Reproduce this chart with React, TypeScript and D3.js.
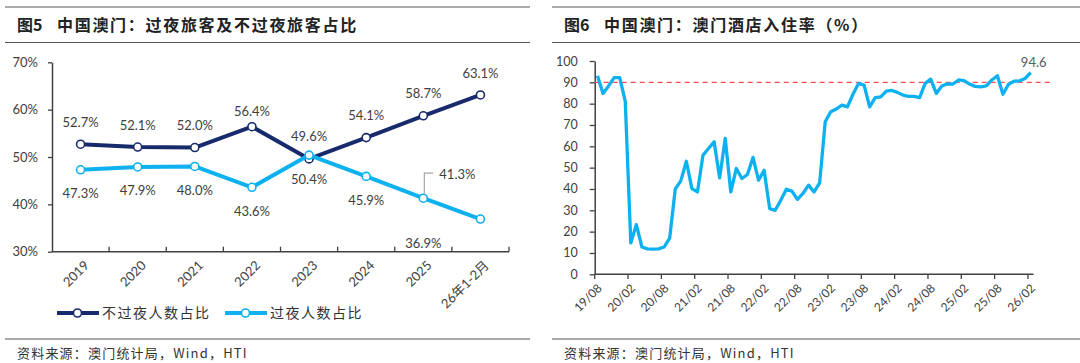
import React, { useEffect, useRef } from "react";
import * as d3 from "d3";

// figure 5: share of day-trippers vs overnight visitors
const years = ["2019", "2020", "2021", "2022", "2023", "2024", "2025", "26年1-2月"];
const dayTripShare = [52.7, 52.1, 52.0, 56.4, 49.6, 54.1, 58.7, 63.1];
const overnightShare = [47.3, 47.9, 48.0, 43.6, 50.4, 45.9, 41.3, 36.9];
const shareTicks = [30, 40, 50, 60, 70];

// figure 6: hotel occupancy rate, monthly 2019/08 - 2026/02
const occupancy = [
  93.1, 84.8, 88.3, 92.2, 92.2,
  81.2, 14.7, 23.3, 12.8, 11.9, 11.8, 11.9, 12.8, 17.0, 39.9, 43.8, 53.0,
  40.2, 38.6, 55.9, 59.0, 62.1, 45.2, 63.7, 38.6, 49.6, 44.9, 46.8, 54.8,
  44.1, 48.8, 30.8, 30.0, 34.7, 39.9, 39.0, 35.1, 37.9, 41.8, 38.6, 42.9,
  71.5, 76.2, 77.5, 79.3, 78.5, 84.4, 89.5, 88.7, 78.5, 82.8, 83.2, 85.9,
  86.2, 85.3, 84.0, 83.4, 83.4, 82.8, 89.5, 91.5, 84.8, 88.3, 89.3, 89.2,
  91.1, 90.8, 89.2, 88.1, 87.9, 88.3, 91.1, 93.1, 84.4, 89.1, 90.5, 90.7,
  91.8, 94.6,
];
const occTickLabels = ["19/08", "20/02", "20/08", "21/02", "21/08", "22/02", "22/08",
  "23/02", "23/08", "24/02", "24/08", "25/02", "25/08", "26/02"];
const occYTicks = [0, 10, 20, 30, 40, 50, 60, 70, 80, 90, 100];
const occRef = 90;

const DARK = "#172b6c";
const LIGHT = "#0db1ef";
const TXT = "#404040";
const NUM_FONT = "Lato, 'Noto Sans CJK SC', sans-serif";
const CJK_FONT = "'Noto Sans CJK SC', sans-serif";

function drawFrame(svg, x0, x1, fig, title, tx) {
  svg.append("line").attr("x1", x0).attr("x2", x1).attr("y1", 7).attr("y2", 7)
    .attr("stroke", "#555").attr("stroke-width", 1);
  svg.append("line").attr("x1", x0).attr("x2", x1).attr("y1", 42.5).attr("y2", 42.5)
    .attr("stroke", "#555").attr("stroke-width", 1.2);
  svg.append("line").attr("x1", x0).attr("x2", x1).attr("y1", 339).attr("y2", 339)
    .attr("stroke", "#555").attr("stroke-width", 1.2);

  svg.append("text").attr("x", tx).attr("y", 31)
    .style("font-family", CJK_FONT).style("font-size", "16px").style("font-weight", 700)
    .attr("fill", "#222").text(fig);
  svg.append("text").attr("x", tx + 40).attr("y", 31)
    .style("font-family", CJK_FONT).style("font-size", "16px").style("font-weight", 700)
    .style("letter-spacing", "1.7px").attr("fill", "#222").text(title);

  svg.append("text").attr("x", tx).attr("y", 358)
    .style("font-family", CJK_FONT).style("font-size", "13px").style("letter-spacing", "1.2px")
    .attr("fill", "#333").text("资料来源：澳门统计局，Wind，HTI");
}

function drawLeft(svg) {
  const x = d3.scaleBand().domain(years).range([52, 509]);
  const y = d3.scaleLinear().domain([30, 70]).range([251.7, 62.3]);
  const cx = (d) => x(d) + x.bandwidth() / 2;

  // y axis
  const ya = svg.append("g").attr("transform", "translate(52,0)")
    .call(d3.axisLeft(y).tickValues(shareTicks).tickFormat((d) => d + "%")
      .tickSize(4).tickSizeOuter(0).tickPadding(10));
  ya.select(".domain").attr("stroke", TXT).attr("stroke-width", 1.5);
  ya.selectAll("line").attr("stroke", TXT).attr("stroke-width", 1.3);
  ya.selectAll("text").attr("fill", TXT).style("font-family", NUM_FONT).style("font-size", "13px");

  // x axis, ticks between categories pointing up
  svg.append("line").attr("x1", 52).attr("x2", 509).attr("y1", 251.7).attr("y2", 251.7)
    .attr("stroke", TXT).attr("stroke-width", 1.5);
  svg.selectAll(".xtickL").data(years.slice(1).concat(["_end"])).enter().append("line")
    .attr("x1", (d) => (d === "_end" ? 509 : x(d))).attr("x2", (d) => (d === "_end" ? 509 : x(d)))
    .attr("y1", 251.7).attr("y2", 246.7).attr("stroke", TXT).attr("stroke-width", 1.3);

  svg.selectAll(".xlabL").data(years).enter().append("text")
    .attr("transform", (d) => `translate(${cx(d) + 6},${263}) rotate(-45)`)
    .attr("text-anchor", "end").attr("dy", "0.35em")
    .style("font-family", NUM_FONT).style("font-size", "13px").attr("fill", TXT)
    .text((d) => d);

  const line = d3.line().x((d, i) => cx(years[i])).y((d) => y(d));

  const series = [
    { values: dayTripShare, color: DARK },
    { values: overnightShare, color: LIGHT },
  ];
  series.forEach((s) => {
    svg.append("path").datum(s.values).attr("d", line).attr("fill", "none")
      .attr("stroke", s.color).attr("stroke-width", 4).attr("stroke-linejoin", "round");
    svg.selectAll(null).data(s.values).enter().append("circle")
      .attr("cx", (d, i) => cx(years[i])).attr("cy", (d) => y(d)).attr("r", 4)
      .attr("fill", "#fff").attr("stroke", s.color).attr("stroke-width", 1.6);
  });

  // data labels
  svg.selectAll(null).data(dayTripShare).enter().append("text")
    .attr("x", (d, i) => cx(years[i]))
    .attr("y", (d, i) => y(d) + (years[i] === "2022" ? -15 : -22))
    .attr("dy", "0.35em").attr("text-anchor", "middle")
    .style("font-family", NUM_FONT).style("font-size", "13px").attr("fill", TXT)
    .text((d) => d.toFixed(1) + "%");

  svg.selectAll(null).data(overnightShare).enter().append("text")
    .filter((d, i) => years[i] !== "2025")
    .attr("x", (d, i) => cx(years[i]))
    .attr("y", (d) => y(d) + 24)
    .attr("dy", "0.35em").attr("text-anchor", "middle")
    .style("font-family", NUM_FONT).style("font-size", "13px").attr("fill", TXT)
    .text((d) => d.toFixed(1) + "%");

  // 2025 overnight label with leader line
  const i25 = years.indexOf("2025");
  const px = cx(years[i25]), py = y(overnightShare[i25]);
  svg.append("polyline")
    .attr("points", `${px + 1},${py - 4} ${px + 1},${py - 25} ${px + 10},${py - 25}`)
    .attr("fill", "none").attr("stroke", "#a6a6a6").attr("stroke-width", 1.2);
  svg.append("text").attr("x", px + 16).attr("y", py - 24).attr("dy", "0.35em")
    .style("font-family", NUM_FONT).style("font-size", "13px").attr("fill", TXT)
    .text(overnightShare[i25].toFixed(1) + "%");

  // legend
  const legend = [
    { name: "不过夜人数占比", color: DARK, x: 57 },
    { name: "过夜人数占比", color: LIGHT, x: 225 },
  ];
  legend.forEach((l) => {
    svg.append("line").attr("x1", l.x).attr("x2", l.x + 42).attr("y1", 313).attr("y2", 313)
      .attr("stroke", l.color).attr("stroke-width", 4);
    svg.append("circle").attr("cx", l.x + 20.5).attr("cy", 313).attr("r", 4)
      .attr("fill", "#fff").attr("stroke", l.color).attr("stroke-width", 1.6);
    svg.append("text").attr("x", l.x + 45).attr("y", 313).attr("dy", "0.35em")
      .style("font-family", CJK_FONT).style("font-size", "14px").style("letter-spacing", "1.5px")
      .attr("fill", "#333").text(l.name);
  });
}

function drawRight(svg) {
  const months = d3.timeMonth.range(new Date(2019, 7, 1), new Date(2026, 2, 1));
  const fmt = d3.timeFormat("%y/%m");
  const keys = months.map(fmt);
  const x = d3.scaleBand().domain(keys).range([594.7, 1033.5]);
  const y = d3.scaleLinear().domain([0, 100]).range([274.3, 61]);

  const ya = svg.append("g").attr("transform", "translate(594.7,0)")
    .call(d3.axisLeft(y).tickValues(occYTicks).tickSize(5).tickSizeOuter(0).tickPadding(12));
  ya.select(".domain").attr("stroke", TXT).attr("stroke-width", 1.5);
  ya.selectAll("line").attr("stroke", TXT).attr("stroke-width", 1.3);
  ya.selectAll("text").attr("fill", TXT).style("font-family", NUM_FONT).style("font-size", "12.5px");

  svg.append("line").attr("x1", 594.7).attr("x2", 1033.5).attr("y1", 274.3).attr("y2", 274.3)
    .attr("stroke", TXT).attr("stroke-width", 1.5);
  svg.selectAll(".xtickR").data(occTickLabels).enter().append("line")
    .attr("x1", (d) => x(d)).attr("x2", (d) => x(d))
    .attr("y1", 274.3).attr("y2", 279).attr("stroke", TXT).attr("stroke-width", 1.3);
  svg.selectAll(".xlabR").data(occTickLabels).enter().append("text")
    .attr("transform", (d) => `translate(${x(d) + 5},${286}) rotate(-45)`)
    .attr("text-anchor", "end").attr("dy", "0.35em")
    .style("font-family", NUM_FONT).style("font-size", "12px").attr("fill", TXT)
    .text((d) => d);

  // 90% reference line
  svg.append("line").attr("x1", 594.7).attr("x2", 1051.7).attr("y1", y(occRef)).attr("y2", y(occRef))
    .attr("stroke", "#ff4b4b").attr("stroke-width", 1.3).attr("stroke-dasharray", "5,4");

  const line = d3.line().x((d, i) => x(keys[i]) + x.bandwidth() / 2).y((d) => y(d));
  svg.append("path").datum(occupancy).attr("d", line).attr("fill", "none")
    .attr("stroke", LIGHT).attr("stroke-width", 3.3).attr("stroke-linejoin", "round");

  const last = occupancy.length - 1;
  svg.append("text").attr("x", x(keys[last]) + x.bandwidth() / 2 + 3).attr("y", y(occupancy[last]) - 6)
    .attr("text-anchor", "middle")
    .style("font-family", NUM_FONT).style("font-size", "13px").attr("fill", "#595959")
    .text(occupancy[last].toFixed(1));
}

export default function App() {
  const svgRef = useRef(null);

  useEffect(() => {
    const svg = d3.select(svgRef.current);
    svg.selectAll("*").remove();

    drawFrame(svg, 5, 530, "图5", "中国澳门：过夜旅客及不过夜旅客占比", 17);
    drawFrame(svg, 552, 1080, "图6", "中国澳门：澳门酒店入住率（%）", 564);
    drawLeft(svg);
    drawRight(svg);
  }, []);

  return (
    <svg ref={svgRef} width={1080} height={363}
      style={{ position: "absolute", left: 0, top: 0, background: "#fff" }} />
  );
}
